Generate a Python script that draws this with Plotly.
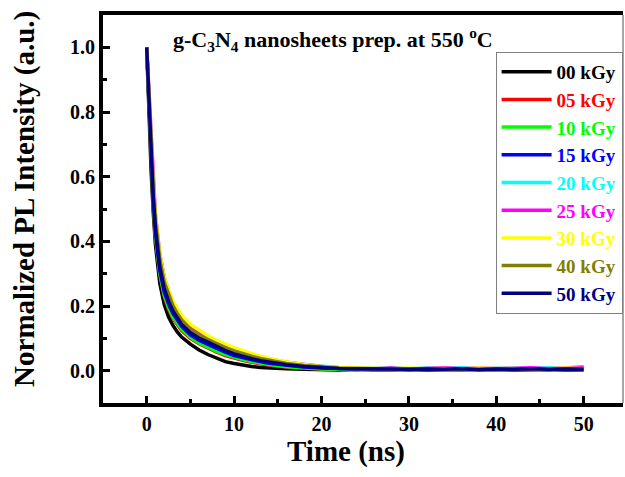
import plotly.graph_objects as go

# Time axis (ns)
T = [0, 0.25, 0.5, 0.75, 1, 1.5, 2, 2.5, 3, 3.5, 4, 5, 6, 7, 8, 9, 10, 11, 12, 13, 14,
     16, 18, 20, 22, 24, 26, 28, 30, 32, 34, 36, 38, 40, 42, 44, 46, 48, 50]

labels = ["00 kGy", "05 kGy", "10 kGy", "15 kGy", "20 kGy", "25 kGy", "30 kGy", "40 kGy", "50 kGy"]
colors = ["#000000", "#FF0000", "#00FF00", "#0000FF", "#00FFFF", "#FF00FF", "#FFFF00", "#808000", "#000080"]

I_00 = [1.00, .80, .62, .49, .39, .27, .205, .166, .140, .120, .104, .082, .064, .050, .038, .028, .022, .017, .013, .010, .008,
        .006, .004, .003, .002, .004, .002, .003, .004, .002, .003, .002, .004, .003, .002, .003, .004, .002, .003]
I_05 = [1.00, .815, .645, .515, .415, .297, .230, .190, .162, .141, .124, .100, .083, .070, .057, .047, .039, .032, .026, .021, .017,
        .011, .007, .005, .004, .003, .005, .002, .004, .003, .002, .005, .003, .002, .004, .003, .002, .004, .003]
I_10 = [1.00, .818, .65, .52, .42, .30, .234, .194, .166, .145, .128, .103, .086, .073, .060, .050, .041, .034, .028, .023, .019,
        .012, .008, .005, .004, .006, .003, .004, .002, .005, .003, .004, .006, .003, .004, .002, .005, .003, .004]
I_15 = [1.00, .825, .66, .53, .43, .31, .245, .206, .177, .155, .137, .111, .094, .081, .068, .057, .047, .040, .033, .028, .023,
        .016, .011, .008, .006, .005, .004, .005, .003, .004, .005, .003, .004, .005, .003, .004, .005, .003, .004]
I_20 = [1.00, .855, .70, .575, .475, .355, .285, .242, .208, .183, .163, .133, .115, .099, .086, .075, .065, .056, .048, .041, .035,
        .025, .018, .013, .010, .008, .007, .009, .006, .008, .007, .009, .006, .007, .008, .006, .009, .007, .008]
I_25 = [1.00, .86, .705, .58, .48, .36, .29, .246, .212, .187, .166, .136, .117, .101, .088, .077, .067, .058, .050, .043, .036,
        .026, .019, .013, .009, .007, .006, .008, .005, .007, .009, .006, .008, .006, .007, .009, .006, .008, .011]
I_30 = [1.00, .86, .70, .58, .48, .36, .29, .248, .215, .19, .170, .143, .125, .108, .094, .082, .071, .062, .053, .045, .038,
        .027, .019, .013, .010, .008, .007, .006, .008, .006, .007, .005, .008, .006, .007, .005, .006, .008, .006]
I_40 = [1.00, .845, .69, .565, .465, .345, .275, .234, .201, .177, .157, .128, .110, .096, .083, .071, .061, .052, .045, .038, .032,
        .022, .016, .011, .008, .007, .006, .007, .005, .006, .004, .006, .005, .007, .005, .006, .004, .006, .005]
I_50 = [1.00, .83, .67, .54, .44, .32, .255, .215, .185, .162, .143, .117, .100, .088, .074, .062, .052, .044, .037, .031, .026,
        .018, .013, .009, .007, .006, .005, .006, .004, .005, .004, .006, .003, .005, .004, .006, .004, .005, .004]

series = [I_00, I_05, I_10, I_15, I_20, I_25, I_30, I_40, I_50]

x_ticks = [0, 10, 20, 30, 40, 50]
y_ticks = [0.0, 0.2, 0.4, 0.6, 0.8, 1.0]

FONT = "Liberation Serif, Times New Roman, serif"

fig = go.Figure()
for lab, col, ys in zip(labels, colors, series):
    fig.add_trace(go.Scatter(
        x=T, y=ys, mode="lines",
        name=f"<span style='color:{col}'>{lab}</span>",
        line=dict(color=col, width=3.5),
    ))

axis_common = dict(
    showline=True, linecolor="black", linewidth=4,
    ticks="inside", tickcolor="black", tickwidth=3, ticklen=7,
    showgrid=False, zeroline=False,
    tickfont=dict(family=FONT, size=20, color="black", weight="bold"),
)

fig.update_xaxes(range=[-5, 54.5], tickvals=x_ticks, mirror=True,
                 minor=dict(dtick=5, tick0=0, ticks="inside", ticklen=4, tickwidth=3, tickcolor="black"),
                 **axis_common)
fig.update_yaxes(range=[-0.1, 1.1], tickvals=y_ticks, tickformat=".1f",
                 minor=dict(dtick=0.1, tick0=0, ticks="inside", ticklen=4, tickwidth=3, tickcolor="black"),
                 **axis_common)

fig.add_annotation(text="Time (ns)", xref="paper", yref="paper", x=0.467, y=-0.124,
                   xanchor="center", yanchor="middle", showarrow=False,
                   font=dict(family=FONT, size=29, color="black", weight="bold"))
fig.add_annotation(text="Normalized PL Intensity (a.u.)", xref="paper", yref="paper", x=-0.15, y=0.526,
                   xanchor="center", yanchor="middle", textangle=-90, showarrow=False,
                   font=dict(family=FONT, size=29, color="black", weight="bold"))
fig.add_annotation(text="g-C<sub>3</sub>N<sub>4</sub> nanosheets prep. at 550 <sup>o</sup>C",
                   xref="paper", yref="paper", x=0.131, y=0.936, xanchor="left", yanchor="middle",
                   showarrow=False, font=dict(family=FONT, size=22, color="black", weight="bold"))

fig.add_shape(type="line", xref="paper", yref="paper", x0=1, x1=1, y0=0, y1=1,
              line=dict(color="#888888", width=1.5))

fig.update_layout(
    width=625, height=477,
    margin=dict(l=103, r=2, t=15, b=74),
    paper_bgcolor="white", plot_bgcolor="white",
    showlegend=True,
    legend=dict(x=0.755, y=0.905, xanchor="left", yanchor="top",
                bgcolor="white", bordercolor="#808080", borderwidth=1,
                font=dict(family=FONT, size=19, color="black", weight="bold"),
                itemwidth=50, tracegroupgap=0),
)

fig.write_html("out.html")
